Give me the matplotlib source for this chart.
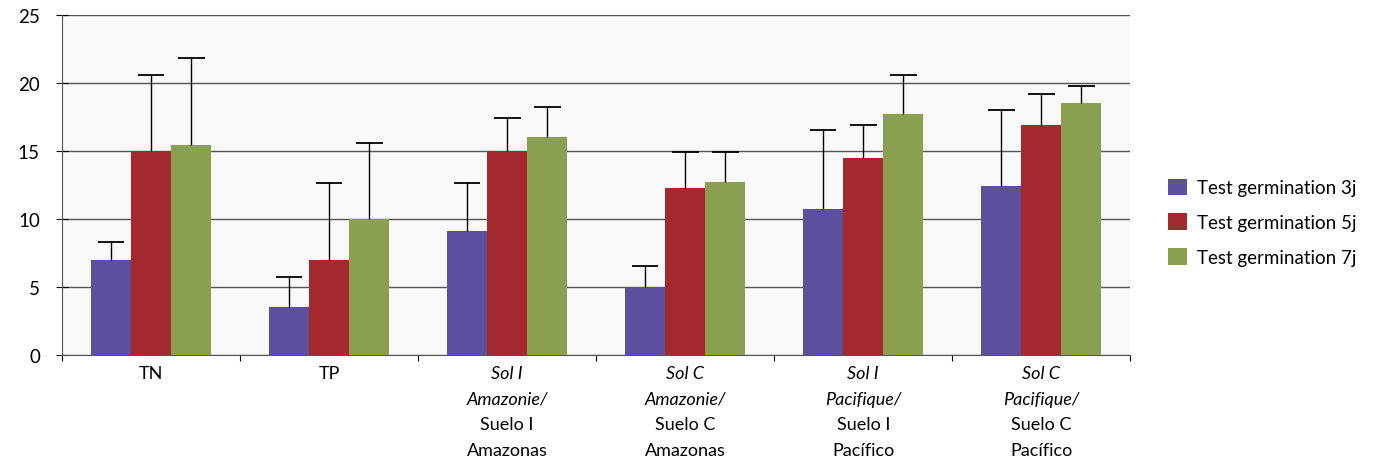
import matplotlib
matplotlib.use("Agg")
import matplotlib.pyplot as plt
import numpy as np

# groups and line-by-line labels (italic part, normal part)
groups = ["TN", "TP", "Sol I Amazonie", "Sol C Amazonie", "Sol I Pacifique", "Sol C Pacifique"]
label_italic = [[], [], ["Sol I", "Amazonie/"], ["Sol C", "Amazonie/"], ["Sol I", "Pacifique/"], ["Sol C", "Pacifique/"]]
label_normal = [["TN"], ["TP"], ["Suelo I", "Amazonas"], ["Suelo C", "Amazonas"], ["Suelo I", "Pacífico"], ["Suelo C", "Pacífico"]]

series = ["Test germination 3j", "Test germination 5j", "Test germination 7j"]
g3 = [7.0, 3.5, 9.1, 5.0, 10.7, 12.4]
g5 = [15.0, 7.0, 15.0, 12.3, 14.5, 16.9]
g7 = [15.4, 10.0, 16.0, 12.7, 17.7, 18.5]
# top of the error bars
g3_top = [8.3, 5.7, 12.6, 6.5, 16.5, 18.0]
g5_top = [20.6, 12.6, 17.4, 14.9, 16.9, 19.2]
g7_top = [21.8, 15.6, 18.2, 14.9, 20.6, 19.8]

colors = ["#5b4f9e", "#a3292e", "#8aa050"]

plt.rcParams['font.family'] = ['Lato', 'DejaVu Sans']

fig = plt.figure(figsize=(13.8, 4.64), dpi=100)
ax = fig.add_axes([0.045, 0.233, 0.774, 0.733])
ax.set_facecolor("#f9f9f9")

x = np.arange(len(groups))
w = 0.225
cap = 0.075
vals = [g3, g5, g7]
tops = [g3_top, g5_top, g7_top]
for i in range(3):
    pos = x + (i - 1) * w
    ax.bar(pos, vals[i], width=w, color=colors[i], label=series[i], zorder=3)
    # upper error bars only
    ax.vlines(pos, vals[i], tops[i], color="black", linewidth=1, zorder=4)
    ax.hlines(tops[i], pos - cap, pos + cap, color="black", linewidth=1.3, zorder=4)

ax.set_ylim(0, 25)
ax.set_xlim(-0.5, len(groups) - 0.5)
ax.set_yticks([0, 5, 10, 15, 20, 25])
ax.yaxis.grid(True, color="#555555", linewidth=1, zorder=0)
ax.tick_params(axis="y", labelsize=13.5, direction="inout", length=8, pad=12)
ax.set_xticks(np.arange(len(groups) + 1) - 0.5)
ax.set_xticklabels([])
ax.tick_params(axis="x", direction="out", length=4)
for s in ["top", "right"]:
    ax.spines[s].set_visible(False)
ax.spines["left"].set_color("#555555")
ax.spines["bottom"].set_color("#555555")

# multi-line category labels, italic and normal lines
trans = ax.get_xaxis_transform()
for i in range(len(groups)):
    lines = [(t, "italic") for t in label_italic[i]] + [(t, "normal") for t in label_normal[i]]
    for j, (t, st) in enumerate(lines):
        ax.text(x[i], -0.03 - j * 0.075, t, transform=trans, ha="center", va="top",
                fontsize=13, style=st)

ax.legend(loc="center left", bbox_to_anchor=(1.02, 0.39), frameon=False,
          fontsize=13.5, handlelength=1.0, handleheight=1.0, handletextpad=0.5,
          labelspacing=0.9)

fig.savefig("out.png", dpi=100)
